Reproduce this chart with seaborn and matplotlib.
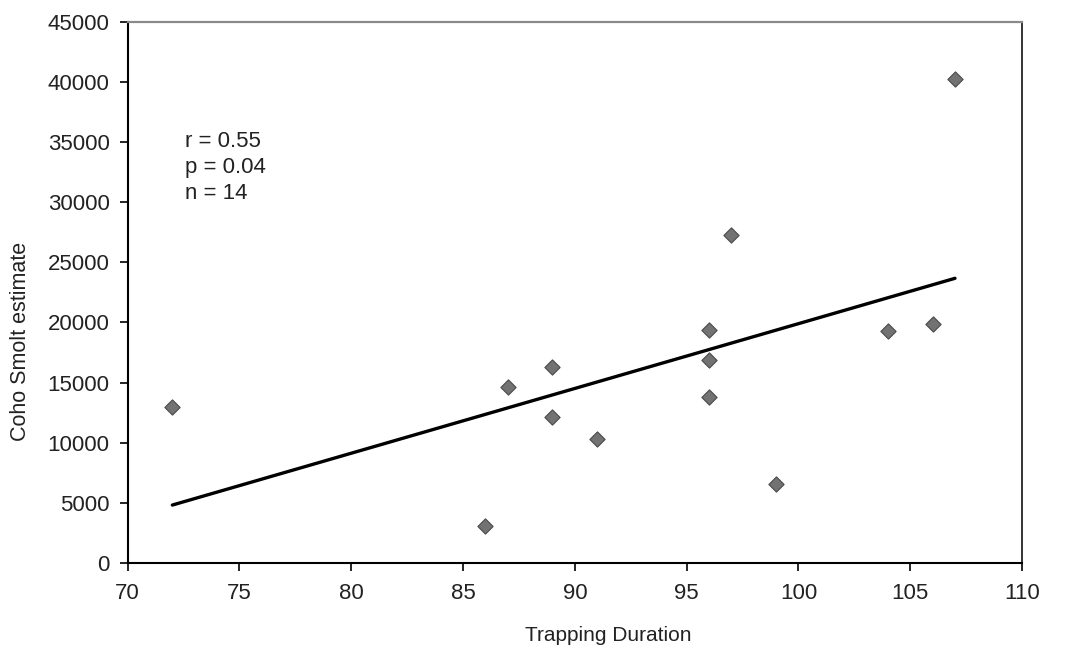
import matplotlib
matplotlib.use("Agg")
import matplotlib.pyplot as plt
import seaborn as sns
import pandas as pd

# Trapping duration (days) and coho smolt population estimate per season
trapping_duration = [72, 86, 87, 89, 89, 91, 96, 96, 96, 97, 99, 104, 106, 107]
smolt_estimate = [13000, 3100, 14600, 16300, 12100, 10300, 19400, 16900,
                  13800, 27300, 6600, 19300, 19900, 40200]

x_ticks = [70, 75, 80, 85, 90, 95, 100, 105, 110]
y_ticks = [0, 5000, 10000, 15000, 20000, 25000, 30000, 35000, 40000, 45000]

stats_text = "r = 0.55\np = 0.04\nn = 14"

df = pd.DataFrame({"duration": trapping_duration, "estimate": smolt_estimate})

sns.set_style("ticks")
plt.rcParams["font.family"] = ["Liberation Sans", "DejaVu Sans"]

fig = plt.figure(figsize=(10.68, 6.54), dpi=100)
ax = fig.add_axes([0.1195, 0.139, 0.8375, 0.828])

sns.regplot(
    data=df, x="duration", y="estimate", ax=ax, ci=None, truncate=True,
    marker="D",
    scatter_kws={"s": 60, "color": "#727272", "edgecolors": "#4a4a4a",
                 "linewidths": 0.8, "alpha": 1, "zorder": 3},
    line_kws={"color": "black", "linewidth": 2.4, "zorder": 2},
)

ax.set_xlim(70, 110)
ax.set_ylim(0, 45000)
ax.set_xticks(x_ticks)
ax.set_yticks(y_ticks)
ax.tick_params(axis="both", direction="out", length=6, width=1.2,
               colors="black", labelsize=16, labelcolor="#222222")
ax.tick_params(axis="y", pad=7)
ax.tick_params(axis="x", pad=8)

for side in ("left", "bottom"):
    ax.spines[side].set_color("black")
    ax.spines[side].set_linewidth(1.5)
ax.spines["top"].set_color("#8a8a8a")
ax.spines["top"].set_linewidth(1.6)
ax.spines["right"].set_color("#333333")
ax.spines["right"].set_linewidth(1.4)

# Axis titles: x title right of centre, y title below centre
ax.set_xlabel("Trapping Duration", fontsize=15, color="#222222")
ax.xaxis.set_label_coords(0.537, -0.117)
ax.set_ylabel("Coho Smolt estimate", fontsize=15.5, color="#222222")
ax.yaxis.set_label_coords(-0.108, 0.41)

ax.text(72.55, 35900, stats_text, fontsize=16, color="#222222",
        va="top", ha="left", linespacing=1.3)

fig.savefig("out.png", dpi=100, facecolor="white")
